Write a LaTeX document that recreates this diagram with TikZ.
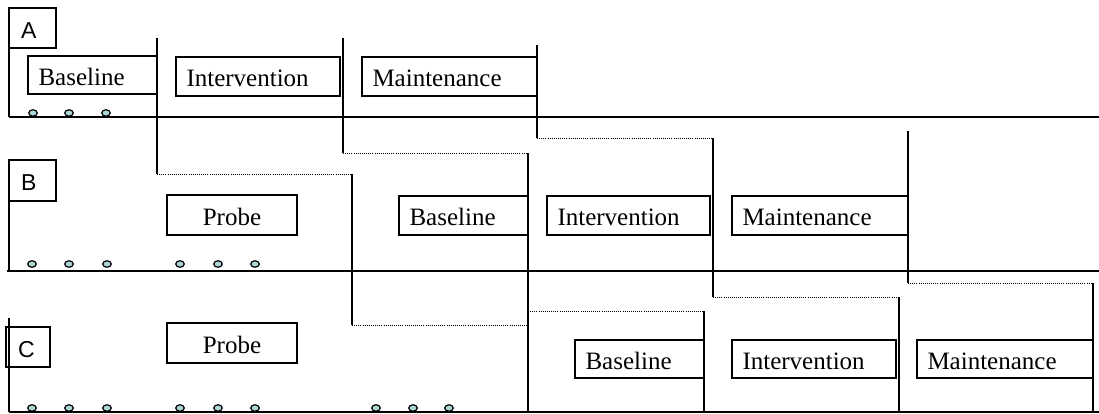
\documentclass[tikz,border=0pt]{standalone}
\usepackage{fontspec}
\setmainfont{Liberation Serif}
\newfontfamily\labfont{Liberation Sans}
\usetikzlibrary{shapes.geometric}
\definecolor{dotc}{RGB}{172,214,214}
\tikzset{
  axis/.style={line width=1.2pt},
  link/.style={line width=1pt, dash pattern=on 1pt off 1.1pt},
  phase/.style={draw, line width=1.2pt, rectangle, inner xsep=10.5pt, inner ysep=0pt,
    text height=22pt, text depth=2pt, font=\fontsize{25}{30}\selectfont},
  tag/.style={draw, line width=1.2pt, rectangle, inner xsep=12pt, inner ysep=0pt, align=left,
    text height=20pt, text depth=0pt, font=\labfont\fontsize{23}{26}\selectfont},
  datum/.style={draw, ellipse, line width=1.2pt, fill=dotc, minimum width=8.5pt, minimum height=6.5pt, inner sep=0pt}
}
\newcommand\phbox[7]{%
  \pgfmathsetmacro\phw{#4-#2}\pgfmathsetmacro\phh{#5-#3}\pgfmathsetmacro\phtw{#4-#2-21}%
  \pgfmathsetmacro\phx{(#2+#4)/2}\pgfmathsetmacro\phy{(#3+#5)/2}%
  \node[phase, align=#6, minimum width=\phw pt, minimum height=\phh pt, text width=\phtw pt] (#1) at (\phx,\phy) {#7};}
\newcommand\tagbox[6]{%
  \pgfmathsetmacro\phw{#4-#2}\pgfmathsetmacro\phh{#5-#3}\pgfmathsetmacro\phtw{#4-#2-24}%
  \pgfmathsetmacro\phx{(#2+#4)/2}\pgfmathsetmacro\phy{(#3+#5)/2}%
  \node[tag, minimum width=\phw pt, minimum height=\phh pt, text width=\phtw pt] (#1) at (\phx,\phy) {#6};}
\begin{document}
\begin{tikzpicture}[x=1pt, y=-1pt]
\useasboundingbox (0,0) rectangle (1099,413);

% axes (baselines) and left edges
\coordinate (aL) at (9,117);  \coordinate (aR) at (1099,117);
\coordinate (bL) at (7,271);  \coordinate (bR) at (1099,271);
\coordinate (cL) at (9,412);  \coordinate (cR) at (1099,412);
\draw[axis] (aL) -- (aR);
\draw[axis] (bL) -- (bR);
\draw[axis] (cL) -- (cR);
\coordinate (aT) at (9,48);   \draw[axis] (aT) -- (aL);
\coordinate (bT) at (9,201);  \coordinate (bB) at (9,271); \draw[axis] (bT) -- (bB);
\coordinate (cT) at (9,318);  \draw[axis] (cT) -- (cL);

% tags
\tagbox{A}{9}{8}{56}{48}{A}
\tagbox{B}{9}{160}{56}{201}{B}
\tagbox{C}{6}{327}{50}{367}{C}

% phase boxes, row A
\phbox{aBase}{28}{56}{157}{94}{left}{Baseline}
\phbox{aInt}{176}{57}{340}{96}{left}{Intervention}
\phbox{aMain}{362}{57}{537}{96}{left}{Maintenance}
% row B
\phbox{bProbe}{167}{195}{297}{235}{center}{Probe}
\phbox{bBase}{399}{196}{528}{235}{left}{Baseline}
\phbox{bInt}{547}{196}{710}{235}{left}{Intervention}
\phbox{bMain}{732}{196}{908}{235}{left}{Maintenance}
% row C
\phbox{cProbe}{167}{323}{297}{363}{center}{Probe}
\phbox{cBase}{575}{340}{704}{378}{left}{Baseline}
\phbox{cInt}{732}{340}{896}{378}{left}{Intervention}
\phbox{cMain}{917}{340}{1093}{378}{left}{Maintenance}

% step 1: end of baseline A
\coordinate (s1a) at (157,38);  \coordinate (s1b) at (157,174);
\coordinate (s1c) at (352,174); \coordinate (s1d) at (352,325);
\coordinate (s1e) at (528,325);
\draw[axis] (s1a) -- (s1b);
\draw[link] (s1b) -- (s1c);
\draw[axis] (s1c) -- (s1d);
\draw[link] (s1d) -- (s1e);

% step 2: end of intervention A
\coordinate (s2a) at (343,38);  \coordinate (s2b) at (343,153);
\coordinate (s2c) at (528,153); \coordinate (s2d) at (528,311);
\coordinate (s2e) at (704,311); \coordinate (s2f) at (704,412);
\coordinate (s2g) at (528,412);
\draw[axis] (s2a) -- (s2b);
\draw[link] (s2b) -- (s2c);
\draw[axis] (s2c) -- (s2g);
\draw[link] (s2d) -- (s2e);
\draw[axis] (s2e) -- (s2f);

% step 3: end of maintenance A
\coordinate (s3a) at (537,45);  \coordinate (s3b) at (537,138);
\coordinate (s3c) at (713,138); \coordinate (s3d) at (713,297);
\coordinate (s3e) at (899,297); \coordinate (s3f) at (899,412);
\draw[axis] (s3a) -- (s3b);
\draw[link] (s3b) -- (s3c);
\draw[axis] (s3c) -- (s3d);
\draw[link] (s3d) -- (s3e);
\draw[axis] (s3e) -- (s3f);

% step 4: end of maintenance B
\coordinate (s4a) at (908,131); \coordinate (s4b) at (908,283);
\coordinate (s4c) at (1093,283); \coordinate (s4d) at (1093,412);
\draw[axis] (s4a) -- (s4b);
\draw[link] (s4b) -- (s4c);
\draw[axis] (s4c) -- (s4d);

% data points
\foreach \x [count=\i] in {33,69,106} \node[datum] (da\i) at (\x,113) {};
\foreach \x [count=\i] in {32,69,107,180,218,255} \node[datum] (db\i) at (\x,264) {};
\foreach \x [count=\i] in {32,69,107,180,218,255,376,413,449} \node[datum] (dc\i) at (\x,408) {};
\end{tikzpicture}
\end{document}
